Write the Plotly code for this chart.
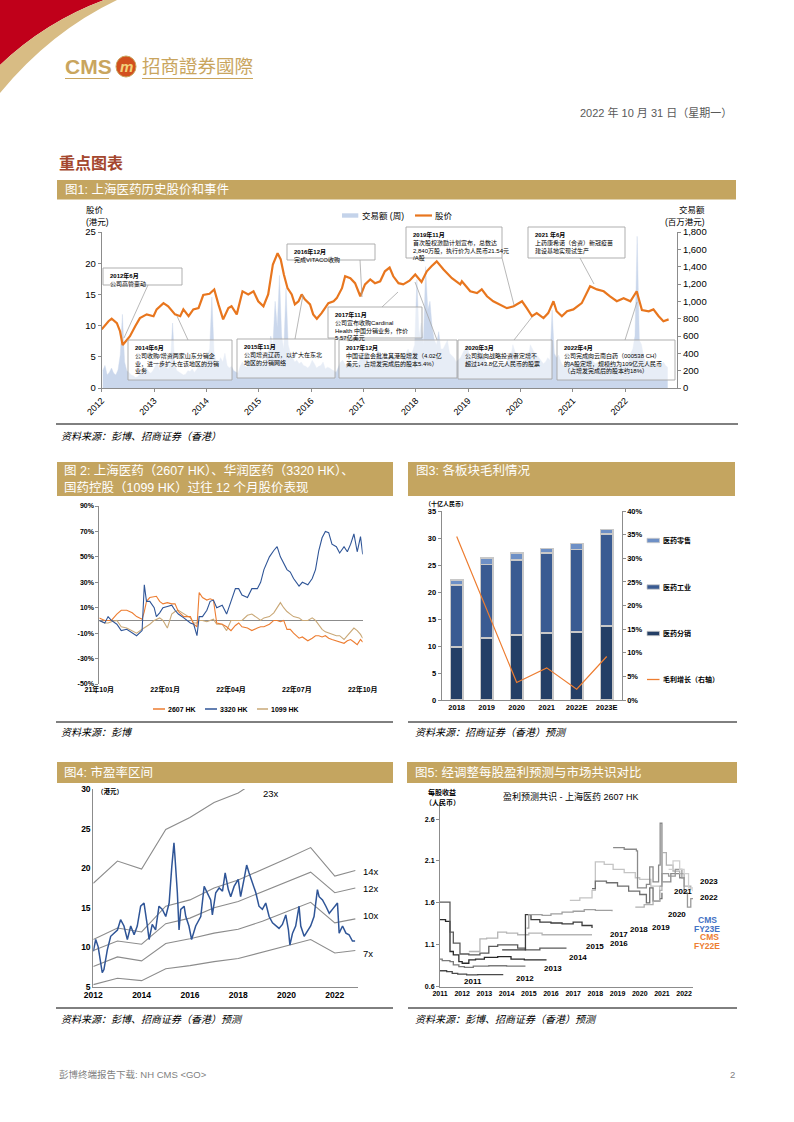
import plotly.graph_objects as go

# Page geometry: the figure fills the page; the body margin is removed after plotting.
PAGE_W, PAGE_H = 794, 1122
OFF = 0
W, H = PAGE_W - 2 * OFF, PAGE_H - 2 * OFF
def X(p): return (p - OFF) / W
def Y(p): return 1 - (p - OFF) / H

FONT = "Liberation Sans, Arial, Noto Sans CJK SC, sans-serif"
GOLD = "#C4A560"
AX = "#8C8C8C"

# ======================= DATA =======================
# --- Fig 1: price (HKD) and weekly turnover (HKD mn)
price_year = [2012.00, 2012.13, 2012.19, 2012.29, 2012.35, 2012.40, 2012.46, 2012.54, 2012.64, 2012.73, 2012.86, 2012.99,
              2013.05, 2013.18, 2013.27, 2013.40, 2013.50, 2013.56, 2013.66, 2013.75, 2013.85, 2013.94,
              2014.06, 2014.15, 2014.23, 2014.32, 2014.42, 2014.48, 2014.58, 2014.69, 2014.80, 2014.90, 2014.99,
              2015.09, 2015.18, 2015.27, 2015.36, 2015.42, 2015.48, 2015.55, 2015.63, 2015.69, 2015.76, 2015.82, 2015.88, 2015.98,
              2016.04, 2016.11, 2016.20, 2016.33, 2016.43, 2016.49, 2016.59, 2016.65, 2016.75, 2016.84, 2016.94,
              2017.03, 2017.13, 2017.22, 2017.32, 2017.41, 2017.50, 2017.57, 2017.67, 2017.76, 2017.88, 2017.99,
              2018.11, 2018.21, 2018.30, 2018.40, 2018.53, 2018.69, 2018.85, 2018.88,
              2019.04, 2019.17, 2019.26, 2019.36, 2019.48, 2019.61, 2019.74, 2019.87,
              2020.03, 2020.12, 2020.22, 2020.31, 2020.44, 2020.53, 2020.63, 2020.69, 2020.79, 2020.89,
              2021.01, 2021.17, 2021.33, 2021.46, 2021.59, 2021.71, 2021.84, 2021.97,
              2022.10, 2022.22, 2022.32, 2022.45, 2022.54, 2022.64, 2022.73, 2022.83]
price_hkd = [9.4, 10.7, 11.1, 10.4, 9.1, 6.9, 7.5, 8.3, 9.9, 11.2, 11.8, 11.5,
             12.6, 13.6, 13.1, 11.8, 11.5, 12.6, 11.5, 12.6, 12.8, 14.9,
             15.1, 15.8, 13.4, 11.0, 12.8, 13.1, 11.8, 15.5, 15.0, 15.5, 13.9,
             13.1, 15.0, 19.8, 21.6, 20.6, 18.2, 16.0, 15.0, 13.4, 13.9, 15.0, 14.2, 13.4,
             11.8, 11.1, 12.0, 13.6, 13.9, 14.4, 16.0, 17.9, 17.6, 16.8, 14.7,
             16.6, 17.4, 16.8, 17.1, 18.7, 19.3, 17.9, 16.8, 16.6, 17.2, 18.2,
             17.0, 18.7, 19.5, 20.3, 19.0, 17.6, 16.6, 17.1,
             15.5, 15.2, 15.8, 14.7, 13.9, 13.4, 12.8, 13.1,
             13.9, 12.8, 11.5, 12.0, 11.2, 12.0, 13.9, 12.3, 11.5, 12.3,
             12.6, 13.6, 16.3, 15.8, 15.5, 14.7, 13.9, 14.4,
             13.9, 15.5, 12.5, 12.3, 12.6, 11.5, 10.7, 11.0]
# half-monthly turnover, Jan 2012 – Oct 2022
turnover_2012 = [200, 260, 150, 180, 230, 170, 150, 210, 380, 850, 300, 200, 180, 150, 140, 120, 130, 160, 200, 170, 230, 190, 170, 200]
turnover_2013 = [250, 300, 200, 350, 280, 240, 220, 300, 750, 260, 200, 180, 170, 150, 160, 200, 190, 220, 180, 210, 260, 240, 300, 280]
turnover_2014 = [380, 450, 1050, 420, 300, 280, 350, 300, 400, 260, 230, 250, 200, 180, 170, 250, 300, 260, 240, 300, 380, 450, 350, 300]
turnover_2015 = [280, 300, 260, 350, 400, 600, 500, 1000, 700, 1300, 600, 450, 1150, 500, 400, 350, 300, 320, 280, 300, 260, 250, 230, 260]
turnover_2016 = [320, 280, 230, 250, 260, 300, 220, 240, 230, 210, 200, 180, 250, 300, 320, 280, 230, 250, 260, 290, 230, 280, 330, 400]
turnover_2017 = [380, 350, 300, 320, 280, 300, 450, 400, 380, 320, 300, 350, 420, 380, 350, 300, 260, 280, 350, 400, 450, 380, 420, 500]
turnover_2018 = [1250, 600, 750, 500, 1400, 900, 1000, 700, 550, 500, 650, 450, 450, 500, 550, 400, 380, 350, 300, 320, 350, 400, 450, 500]
turnover_2019 = [380, 350, 320, 300, 450, 400, 380, 350, 280, 260, 240, 280, 300, 260, 230, 220, 280, 300, 330, 350, 500, 420, 300, 280]
turnover_2020 = [280, 300, 350, 320, 500, 450, 400, 380, 350, 320, 280, 300, 350, 320, 900, 400, 350, 380, 300, 260, 250, 280, 300, 280]
turnover_2021 = [300, 280, 260, 300, 350, 300, 400, 380, 350, 300, 280, 300, 250, 240, 230, 250, 280, 300, 300, 280, 240, 260, 280, 260]
turnover_2022 = [260, 300, 400, 450, 600, 1750, 550, 500, 350, 300, 320, 300, 280, 260, 250, 230, 260, 300, 260, 240]
year_ticks = [2012, 2013, 2014, 2015, 2016, 2017, 2018, 2019, 2020, 2021, 2022]

events = [
    ("2012年6月", "公司高管变动"),
    ("2014年6月", "公司收购/增资两家山东分销企<br>业，进一步扩大在该地区的分销<br>业务"),
    ("2015年11月", "公司增资辽药，以扩大在东北<br>地区的分销网络"),
    ("2016年12月", "完成VITACO收购"),
    ("2017年11月", "公司宣布收购Cardinal<br>Health 中国分销业务，作价<br>5.57亿美元"),
    ("2017年12月", "中国证监会批准其港股增发（4.02亿<br>美元，占增发完成后的股本5.4%）"),
    ("2019年11月", "首次股权激励计划宣布，总数达<br>2,840万股，执行价为人民币21.54元<br>/A股"),
    ("2020年3月", "公司拟向战略投资者定增不<br>超过143.8亿元人民币的股票"),
    ("2021 年6月", "上药康希诺（合资）新冠疫苗<br>建设基地实现试生产"),
    ("2022年4月", "公司完成向云南白药（000538 CH）<br>的A股定增，规模约为109亿元人民币<br>（占增发完成后的股本约18%）"),
]

# --- Fig 2: 12-month relative performance (%), x in months since Oct-21
perf_month = [0, 0.25, 0.4, 0.55, 0.8, 1.0, 1.25, 1.5, 1.7, 1.95,
              2.05, 2.15, 2.3, 2.5, 2.6, 2.75, 2.9, 3.1, 3.3, 3.45,
              3.6, 3.85, 4.15, 4.3, 4.45, 4.55, 4.7, 4.9, 5.05, 5.2,
              5.35, 5.6, 5.8, 6.0, 6.2, 6.35, 6.5, 6.75, 6.95, 7.2,
              7.35, 7.5, 7.75, 7.95, 8.1, 8.25, 8.4, 8.55, 8.7, 8.85,
              9.1, 9.25, 9.5, 9.7, 9.85, 10.0, 10.15, 10.3, 10.45, 10.6,
              10.8, 10.95, 11.15, 11.3, 11.45, 11.6, 11.75, 11.9, 12.0]
perf_2607 = [2, 0, 0, 0, 5, 8, 8, 6, 3, 1,
             7, 15, 18, 19, 19, 15, 13, 14, 13, 13,
             7, 3, 3, -3, -5, 22, 18, 16, 17, 16,
             -2, -3, -5, -8, -4, -2, -5, -6, -8, -6,
             -5, -5, -3, 0, 0, -1, 0, -7, -7, -10,
             -14, -13, -16, -14, -12, -12, -13, -12, -14, -15,
             -16, -17, -18, -16, -15, -17, -19, -15, -17]
perf_3320 = [0, -2, 3, 0, -3, -8, -7, -10, -12, -8,
             28, 15, 15, 10, 3, 6, 10, 11, 12, 8,
             5, 2, -2, -3, -12, 3, 3, 8, 15, 16,
             10, 12, 5, 15, 25, 25, 20, 18, 25, 25,
             30, 40, 50, 55, 58, 50, 45, 40, 38, 33,
             27, 30, 28, 33, 40, 55, 65, 70, 69, 60,
             58, 53, 58, 54, 60, 68, 54, 66, 52]
perf_1099 = [0, -2, -2, -1, 0, -5, -6, -8, -10, -7,
             -6, -5, -3, 0, 1, 2, 0, -6, 5, 7,
             8, 5, 2, -2, -2, 0, 0, -1, 0, 1,
             -3, -3, -8, 0, 0, 0, 0, 4, 5, 2,
             0, 2, 3, 6, 10, 14, 10, 7, 5, 3,
             2, 0, 0, 2, 0, -4, -7, -9, -10, -11,
             -12, -12, -15, -12, -9, -6, -8, -11, -14]
perf_ticks = [0, 3, 6, 9, 12]
perf_ticklabels = ["21年10月", "22年01月", "22年04月", "22年07月", "22年10月"]

# --- Fig 3: gross profit by segment (RMB bn) and growth (%)
gp_years = ["2018", "2019", "2020", "2021", "2022E", "2023E"]
gp_distribution = [9.8, 11.5, 12.0, 12.4, 12.6, 13.7]
gp_industry = [11.5, 13.6, 13.9, 14.8, 15.3, 17.0]
gp_retail = [0.9, 1.2, 1.3, 0.9, 1.1, 0.9]
gp_growth = [34.6, 19.0, 3.7, 6.8, 2.3, 9.2]

# --- Fig 4: PE band
band_year = [2012, 2013, 2014, 2015, 2016, 2017, 2018, 2019, 2020, 2021, 2022, 2022.85]
pe_7x = [5.3, 6.1, 5.8, 7.3, 7.7, 8.2, 8.6, 9.4, 10.2, 11.0, 9.3, 9.6]
pe_10x = [7.6, 8.8, 8.3, 10.5, 11.1, 11.8, 12.3, 13.3, 14.5, 15.7, 13.1, 13.6]
pe_12x = [9.6, 10.8, 10.4, 13.0, 13.7, 15.0, 15.8, 17.0, 18.2, 19.5, 16.9, 17.5]
pe_14x = [11.0, 12.45, 11.95, 15.2, 16.0, 17.5, 18.5, 19.8, 21.2, 22.6, 19.0, 19.7]
pe_23x = [18.1, 20.9, 19.9, 24.9, 26.4, 28.3, 29.5, 31.5, 33.5, 36.0, 31.0, 32.0]
pe_price_year = [2012.0, 2012.1, 2012.2, 2012.3, 2012.37, 2012.44, 2012.58, 2012.72, 2012.86, 2013.0,
                 2013.13, 2013.27, 2013.41, 2013.55, 2013.69, 2013.82, 2013.96, 2014.1, 2014.24, 2014.31,
                 2014.44, 2014.58, 2014.72, 2014.86, 2015.0, 2015.14, 2015.25, 2015.34, 2015.38, 2015.48,
                 2015.55, 2015.62, 2015.76, 2015.83, 2015.96, 2016.07, 2016.24, 2016.45, 2016.59, 2016.72,
                 2016.86, 2016.93, 2017.07, 2017.21, 2017.35, 2017.46, 2017.59, 2017.69, 2017.83, 2018.0,
                 2018.1, 2018.24, 2018.35, 2018.45, 2018.59, 2018.73, 2018.86, 2019.0, 2019.14, 2019.28,
                 2019.42, 2019.56, 2019.69, 2019.83, 2019.97, 2020.08, 2020.14, 2020.25, 2020.38, 2020.52,
                 2020.59, 2020.73, 2020.87, 2021.0, 2021.14, 2021.28, 2021.35, 2021.49, 2021.63, 2021.77,
                 2021.9, 2022.01, 2022.11, 2022.18, 2022.32, 2022.46, 2022.59, 2022.73, 2022.84]
pe_price = [9.5, 11.0, 10.1, 8.4, 6.8, 7.2, 9.7, 11.4, 11.8, 12.2,
            13.5, 12.7, 11.0, 12.7, 11.6, 12.7, 15.2, 15.6, 12.7, 11.0,
            12.9, 12.2, 15.2, 14.8, 13.9, 15.6, 20.2, 23.2, 21.5, 16.9,
            12.2, 14.8, 15.2, 13.9, 12.7, 11.0, 12.7, 13.9, 17.7, 16.9,
            16.0, 14.1, 16.9, 17.5, 17.1, 19.4, 17.3, 16.4, 17.7, 18.6,
            16.4, 18.6, 20.4, 19.4, 18.1, 16.9, 15.2, 14.8, 15.6, 13.9,
            13.1, 12.7, 12.4, 12.9, 14.1, 12.2, 10.3, 11.8, 12.7, 15.2,
            12.7, 11.4, 12.0, 12.7, 13.9, 17.3, 16.4, 16.0, 15.2, 14.3,
            14.8, 15.2, 15.6, 11.8, 12.7, 11.8, 11.6, 10.8, 10.8]

# --- Fig 5: EPS consensus (RMB) per fiscal year
eps_fy2011_x = [2011.0, 2011.3, 2011.55, 2011.8, 2012.2, 2012.7, 2013.85]
eps_fy2011_y = [0.79, 0.78, 0.76, 0.75, 0.74, 0.745, 0.745]
eps_fy2012_x = [2011.0, 2011.1, 2011.45, 2011.6, 2011.85, 2012.1, 2012.5, 2013.2, 2014.0, 2014.85]
eps_fy2012_y = [0.93, 0.91, 0.90, 0.86, 0.84, 0.83, 0.845, 0.85, 0.845, 0.845]
eps_fy2013_x = [2011.0, 2011.25, 2011.45, 2011.6, 2011.85, 2012.0, 2012.3, 2012.6, 2013.0, 2013.6, 2014.2, 2014.8, 2015.3, 2015.8]
eps_fy2013_y = [1.40, 1.38, 1.02, 0.98, 0.90, 0.88, 0.92, 0.93, 0.95, 0.96, 0.93, 0.92, 0.92, 0.92]
eps_fy2014_x = [2011.0, 2011.45, 2011.6, 2011.9, 2012.3, 2012.8, 2013.2, 2013.6, 2014.0, 2014.5, 2014.85, 2015.5, 2016.0, 2016.7]
eps_fy2014_y = [1.61, 1.25, 1.12, 0.99, 0.98, 1.00, 1.08, 1.10, 1.10, 1.06, 1.04, 1.06, 1.06, 1.06]
eps_fy2015_x = [2012.3, 2012.8, 2013.1, 2013.6, 2014.0, 2014.5, 2015.0, 2015.6, 2016.2, 2017.0, 2017.85]
eps_fy2015_y = [1.02, 1.17, 1.18, 1.25, 1.24, 1.22, 1.24, 1.22, 1.22, 1.22, 1.22]
eps_fy2016_x = [2013.8, 2014.85, 2015.1, 2015.5, 2016.0, 2016.5, 2017.0, 2017.4, 2017.85]
eps_fy2016_y = [1.04, 1.46, 1.40, 1.37, 1.36, 1.35, 1.37, 1.33, 1.30]
eps_fy2017_x = [2014.9, 2015.0, 2015.6, 2016.0, 2016.5, 2017.0, 2017.5, 2018.0, 2018.75]
eps_fy2017_y = [1.30, 1.46, 1.45, 1.47, 1.49, 1.50, 1.52, 1.51, 1.50]
eps_fy2018_x = [2016.85, 2017.3, 2017.85, 2018.0, 2018.4, 2018.8, 2019.3, 2019.8, 2020.0, 2020.5, 2020.9]
eps_fy2018_y = [1.63, 1.66, 1.75, 2.09, 2.06, 2.00, 1.96, 1.90, 1.88, 1.80, 1.65]
eps_fy2019_x = [2017.85, 2018.0, 2018.5, 2019.0, 2019.5, 2020.0, 2020.3, 2020.45, 2020.6, 2020.9, 2021.0]
eps_fy2019_y = [1.77, 1.86, 1.84, 1.80, 1.74, 1.70, 1.60, 1.78, 1.62, 1.65, 1.72]
eps_fy2020_x = [2018.8, 2019.3, 2019.85, 2019.9, 2020.3, 2020.45, 2020.6, 2020.85, 2020.92, 2021.0, 2021.4, 2021.8, 2022.0]
eps_fy2020_y = [2.26, 2.24, 2.22, 1.78, 1.82, 2.03, 1.85, 2.05, 2.55, 1.85, 1.95, 1.90, 1.88]
eps_fy2021_x = [2019.8, 2020.2, 2020.6, 2020.9, 2021.0, 2021.2, 2021.5, 2021.8, 2022.0, 2022.3]
eps_fy2021_y = [1.55, 1.58, 1.62, 1.75, 2.20, 2.05, 1.98, 1.95, 1.80, 1.75]
eps_fy2022_x = [2020.9, 2021.0, 2021.3, 2021.6, 2021.9, 2022.0, 2022.15, 2022.3, 2022.4]
eps_fy2022_y = [1.80, 1.95, 1.92, 2.00, 1.90, 1.72, 1.55, 1.65, 1.65]
eps_fy2023_x = [2021.3, 2021.5, 2021.8, 2022.0, 2022.2, 2022.4]
eps_fy2023_y = [2.00, 2.10, 2.00, 1.95, 1.78, 1.74]
cms_fy23e = 1.25
cms_fy22e = 1.19
cms_x = 2022.42

# ======================= FIGURE =======================
fig = go.Figure()
ann, shapes = [], []

def T(x, y, text, size=9, color="#000000", xa="left", ya="middle", bold=False, italic=False, align="left"):
    if bold:
        text = "<b>" + text + "</b>"
    if italic:
        text = "<i>" + text + "</i>"
    ann.append(dict(x=X(x), y=Y(y), xref="paper", yref="paper", text=text, showarrow=False,
                    xanchor=xa, yanchor=ya, align=align, borderpad=0,
                    font=dict(size=size, color=color, family=FONT)))

def R(x0, y0, x1, y1, fill, lc=None, lw=0):
    shapes.append(dict(type="rect", xref="paper", yref="paper", x0=X(x0), y0=Y(y1), x1=X(x1), y1=Y(y0),
                       fillcolor=fill, line=dict(color=lc if lc else "rgba(0,0,0,0)", width=lw)))

def L(x0, y0, x1, y1, color, w=1):
    shapes.append(dict(type="line", xref="paper", yref="paper", x0=X(x0), y0=Y(y0), x1=X(x1), y1=Y(y1),
                       line=dict(color=color, width=w)))

def P(cmds, fill):
    s = ""
    for c, pts in cmds:
        s += c
        for i in range(0, len(pts), 2):
            s += "%.5f,%.5f " % (X(pts[i]), Y(pts[i + 1]))
    shapes.append(dict(type="path", xref="paper", yref="paper", path=s, fillcolor=fill,
                       line=dict(width=0, color=fill)))

# ---------- page header ----------
P([("M", [0, 0]), ("L", [104, 0]), ("Q", [45, 22, 0, 65]), ("Z", [])], "#C0001A")
P([("M", [104, 0]), ("L", [117, 0]), ("Q", [50, 32, 0, 93]), ("L", [0, 65]), ("Q", [45, 22, 104, 0]), ("Z", [])], "#D8BC84")
T(64, 67, "CMS", size=21, color="#C9A55E", bold=True)
shapes.append(dict(type="circle", xref="paper", yref="paper", x0=X(116), y0=Y(77), x1=X(136), y1=Y(56),
                   fillcolor="#D2501E", line=dict(color="#C9A55E", width=1)))
T(126, 66, "<i>m</i>", size=15, color="#F2D27A", xa="center", bold=True)
T(141, 67, "招商證券國際", size=18.5, color="#C9A55E")
L(65, 78.5, 109, 78.5, "#C9A55E", 1.2)
L(142, 78.5, 253, 78.5, "#C9A55E", 1.2)
T(733, 112.5, "2022 年 10 月 31 日（星期一）", size=11, color="#595959", xa="right")
T(58, 163, "重点图表", size=16, color="#A4472E", bold=True)

# ---------- section bands ----------
R(57, 180, 736, 199.5, GOLD)
T(64, 190, "图1: 上海医药历史股价和事件", size=12.5, color="#FFFFFF")
R(57, 462, 393, 496, GOLD)
T(63, 470.5, "图 2: 上海医药（2607 HK）、华润医药（3320 HK）、", size=12.5, color="#FFFFFF")
T(63, 487.5, "国药控股（1099 HK）过往 12 个月股价表现", size=12.5, color="#FFFFFF")
R(408, 462, 735, 496, GOLD)
T(415, 470.5, "图3: 各板块毛利情况", size=12.5, color="#FFFFFF")
R(57, 762, 393, 783, GOLD)
T(63, 772.5, "图4: 市盈率区间", size=12.5, color="#FFFFFF")
R(407, 762, 737, 783, GOLD)
T(414, 772.5, "图5: 经调整每股盈利预测与市场共识对比", size=12.5, color="#FFFFFF")

# source lines
L(56, 424, 738, 424, "#000000", 1)
T(60, 436, "资料来源：彭博、招商证券（香港）", size=10, italic=True)
L(56, 722, 393, 722, "#000000", 1)
T(60, 732, "资料来源：彭博", size=10, italic=True)
L(408, 722, 737, 722, "#000000", 1)
T(414, 732, "资料来源：招商证券（香港）预测", size=10, italic=True)
L(56, 1008, 393, 1008, "#000000", 1)
T(60, 1019, "资料来源：彭博、招商证券（香港）预测", size=10, italic=True)
L(408, 1008, 737, 1008, "#000000", 1)
T(414, 1019, "资料来源：彭博、招商证券（香港）预测", size=10, italic=True)

# footer
T(58, 1074.5, "彭博终端报告下载: NH CMS &lt;GO&gt;", size=9.5, color="#7F7F7F")
T(736, 1074.5, "2", size=9.5, color="#7F7F7F", xa="right")

# ---------- Fig 1 ----------
turnover_mn = (turnover_2012 + turnover_2013 + turnover_2014 + turnover_2015 + turnover_2016 +
               turnover_2017 + turnover_2018 + turnover_2019 + turnover_2020 + turnover_2021 + turnover_2022)
vol_x = [2012 + (i + 0.5) / 24 for i in range(len(turnover_mn))]
fig.add_trace(go.Scatter(x=vol_x, y=turnover_mn, mode="lines", fill="tozeroy",
                         line=dict(width=0.4, color="#C9D6EA"), fillcolor="rgba(196,211,234,0.9)",
                         xaxis="x", yaxis="y", hoverinfo="skip"))
fig.add_trace(go.Scatter(x=price_year, y=price_hkd, mode="lines", line=dict(color="#E8761E", width=2.2),
                         xaxis="x", yaxis="y2"))
T(85, 210, "股价", size=8.5)
T(85, 222, "(港元)", size=8.5)
T(706, 210, "交易额", size=8.5, xa="right")
T(706, 222, "(百万港元)", size=8.5, xa="right")
R(342, 213.3, 358.3, 217.7, "#C4D3EA")
T(361, 215.5, "交易额 (周)", size=8.5)
L(415, 215.5, 432, 215.5, "#E8761E", 2.2)
T(434, 215.5, "股价", size=8.5)

boxes = [
    (103, 268, 182, 285, 148, 285, 124, 338),
    (128, 340, 232, 380, 188, 340, 177, 316),
    (237, 339, 335, 378, 295, 339, 303, 295),
    (287, 244, 375, 260, 360, 260, 362, 297),
    (328, 307, 422, 338, 382, 307, 398, 292),
    (339, 340, 457, 378, 437, 340, 415, 282),
    (406, 227, 502, 258, 502, 258, 514, 305),
    (458, 340, 552, 379, 514, 340, 532, 317),
    (528, 227, 625, 258, 580, 258, 594, 284),
    (557, 340, 675, 380, 625, 340, 637, 302),
]
for (x0, y0, x1, y1, lx0, ly0, lx1, ly1), (title, body) in zip(boxes, events):
    L(lx0, ly0, lx1, ly1, "#A6A6A6", 0.8)
    R(x0, y0, x1, y1, "rgba(255,255,255,0.55)", "#A6A6A6", 0.9)
    ann.append(dict(x=X(x0 + 6), y=Y(y0 + 3), xref="paper", yref="paper",
                    text="<b>" + title + "</b><br>" + body, showarrow=False, xanchor="left", yanchor="top",
                    align="left", borderpad=0, font=dict(size=6, color="#000000", family=FONT)))

# ---------- Fig 2 ----------
fig.add_trace(go.Scatter(x=perf_month, y=perf_1099, mode="lines", line=dict(color="#C9A877", width=1.1),
                         xaxis="x2", yaxis="y3"))
fig.add_trace(go.Scatter(x=perf_month, y=perf_2607, mode="lines", line=dict(color="#ED7D31", width=1.1),
                         xaxis="x2", yaxis="y3"))
fig.add_trace(go.Scatter(x=perf_month, y=perf_3320, mode="lines", line=dict(color="#2F5597", width=1.1),
                         xaxis="x2", yaxis="y3"))
L(153, 709, 165, 709, "#ED7D31", 1.5)
T(167, 709, "2607 HK", size=7, bold=True)
L(205, 709, 217, 709, "#2F5597", 1.5)
T(219, 709, "3320 HK", size=7, bold=True)
L(257, 709, 268, 709, "#C9A877", 1.5)
T(270, 709, "1099 HK", size=7, bold=True)

# ---------- Fig 3 ----------
bar_line = dict(color="#C8C8C8", width=1.5)
fig.add_trace(go.Bar(x=gp_years, y=gp_distribution, width=0.42, marker=dict(color="#243F66", line=bar_line),
                     xaxis="x3", yaxis="y4"))
fig.add_trace(go.Bar(x=gp_years, y=gp_industry, width=0.42, marker=dict(color="#3A5B92", line=bar_line),
                     xaxis="x3", yaxis="y4"))
fig.add_trace(go.Bar(x=gp_years, y=gp_retail, width=0.42, marker=dict(color="#6E90C6", line=bar_line),
                     xaxis="x3", yaxis="y4"))
fig.add_trace(go.Scatter(x=gp_years, y=gp_growth, mode="lines", line=dict(color="#ED7D31", width=1.2),
                         xaxis="x3", yaxis="y5"))
T(446, 503.5, "（十亿人民币）", size=6, xa="center", bold=True)
for yy, col, lab in [(540.5, "#6E90C6", "医药零售"), (587, "#3A5B92", "医药工业"), (633.5, "#243F66", "医药分销")]:
    R(647, yy - 2.2, 659.5, yy + 2.2, col, "#C8C8C8", 0.8)
    T(662, yy, lab, size=7, bold=True)
L(647, 679.5, 659.5, 679.5, "#ED7D31", 1.3)
T(662, 679.5, "毛利增长（右轴）", size=7, bold=True)

# ---------- Fig 4 ----------
for band in [pe_7x, pe_10x, pe_12x, pe_14x, pe_23x]:
    fig.add_trace(go.Scatter(x=band_year, y=band, mode="lines", line=dict(color="#8C8C8C", width=1.1),
                             xaxis="x4", yaxis="y6"))
fig.add_trace(go.Scatter(x=pe_price_year, y=pe_price, mode="lines", line=dict(color="#2F5597", width=1.5),
                         xaxis="x4", yaxis="y6"))
T(110, 791.5, "（港元）", size=6.5, xa="center", bold=True)
T(262, 793.5, "23x", size=9.5)
T(362, 871, "14x", size=9.5)
T(362, 888.5, "12x", size=9.5)
T(362, 915, "10x", size=9.5)
T(362, 953, "7x", size=9.5)

# ---------- Fig 5 ----------
eps_lines = [
    (eps_fy2011_x, eps_fy2011_y, "#4A4A4A"), (eps_fy2012_x, eps_fy2012_y, "#7A7A7A"),
    (eps_fy2013_x, eps_fy2013_y, "#2A2A2A"), (eps_fy2014_x, eps_fy2014_y, "#5A5A5A"),
    (eps_fy2015_x, eps_fy2015_y, "#B5B5B5"), (eps_fy2016_x, eps_fy2016_y, "#3C3C3C"),
    (eps_fy2017_x, eps_fy2017_y, "#A0A0A0"), (eps_fy2018_x, eps_fy2018_y, "#C4C4C4"),
    (eps_fy2019_x, eps_fy2019_y, "#6E6E6E"), (eps_fy2020_x, eps_fy2020_y, "#8A8A8A"),
    (eps_fy2021_x, eps_fy2021_y, "#B0B0B0"), (eps_fy2022_x, eps_fy2022_y, "#999999"),
    (eps_fy2023_x, eps_fy2023_y, "#D0D0D0"),
]
for xs, ys, col in eps_lines:
    fig.add_trace(go.Scatter(x=xs, y=ys, mode="lines", line=dict(color=col, width=1.3, shape="hv"),
                             xaxis="x5", yaxis="y7"))
fig.add_trace(go.Scatter(x=[cms_x], y=[cms_fy23e], mode="markers", cliponaxis=False,
                         marker=dict(symbol="triangle-up-open", size=8, color="#4472C4", line=dict(width=1.2)),
                         xaxis="x5", yaxis="y7"))
fig.add_trace(go.Scatter(x=[cms_x], y=[cms_fy22e], mode="markers", cliponaxis=False,
                         marker=dict(symbol="square-open", size=8, color="#ED7D31", line=dict(width=1.2)),
                         xaxis="x5", yaxis="y7"))
T(571, 796, "盈利预测共识 - 上海医药 2607 HK", size=9, xa="center")
T(442, 792, "每股收益", size=7, xa="center", bold=True)
T(442, 802, "（人民币）", size=7, xa="center", bold=True)
for (lx, ly, lab) in [(473, 981, "2011"), (525, 978, "2012"), (553, 968, "2013"), (578, 957, "2014"),
                      (595, 946, "2015"), (619, 943.5, "2016"), (619, 934, "2017"), (639, 929, "2018"),
                      (661, 927, "2019"), (677, 914, "2020"), (683, 891, "2021"), (709, 897.5, "2022"),
                      (709, 881, "2023")]:
    T(lx, ly, lab, size=8, xa="center", bold=True)
T(707, 920, "CMS", size=8.5, color="#4472C4", xa="center", bold=True)
T(707, 928.5, "FY23E", size=8.5, color="#4472C4", xa="center", bold=True)
T(709, 937, "CMS", size=8.5, color="#ED7D31", xa="center", bold=True)
T(707, 945.5, "FY22E", size=8.5, color="#ED7D31", xa="center", bold=True)

# ---------- axes ----------
def axis(**kw):
    base = dict(showgrid=False, zeroline=False, showline=True, linecolor=AX, linewidth=1,
                ticks="outside", ticklen=3, tickcolor=AX, color="#000000", fixedrange=True,
                automargin=False)
    base.update(kw)
    return base

def tf(s, b=False):
    return dict(size=s, family=FONT, color="#000000", weight="bold" if b else "normal")

layout_axes = dict(
    # fig1
    xaxis=axis(domain=[X(101.7), X(677)], range=[2012, 2022.99], tickvals=year_ticks,
               ticktext=[str(v) for v in year_ticks], tickangle=-45, tickfont=tf(9), anchor="y"),
    yaxis=axis(domain=[Y(388), Y(232)], range=[0, 1800], dtick=200, tickformat=",", side="right",
               anchor="x", tickfont=tf(9.5)),
    yaxis2=axis(domain=[Y(388), Y(232)], range=[0, 25], dtick=5, side="left", overlaying="y",
                anchor="x", tickfont=tf(9.5)),
    # fig2
    xaxis2=axis(domain=[X(99.3), X(362.7)], range=[0, 12], tickvals=perf_ticks, ticktext=perf_ticklabels,
                showline=False, ticks="", tickfont=tf(7, True), anchor="y3"),
    yaxis3=axis(domain=[Y(684), Y(506)], range=[-50, 90], tickvals=[-50, -30, -10, 10, 30, 50, 70, 90],
                ticktext=["-50%", "-30%", "-10%", "10%", "30%", "50%", "70%", "90%"],
                zeroline=True, zerolinecolor=AX, zerolinewidth=1, tickfont=tf(7, True), anchor="x2"),
    # fig3
    xaxis3=axis(domain=[X(441.7), X(621.7)], type="category", range=[-0.5, 5.5], ticks="",
                tickfont=tf(7.5, True), anchor="y4"),
    yaxis4=axis(domain=[Y(700), Y(511)], range=[0, 35], dtick=5, tickfont=tf(7.5, True), anchor="x3"),
    yaxis5=axis(domain=[Y(700), Y(511)], range=[0, 40], dtick=5, ticksuffix="%", side="right",
                overlaying="y4", tickfont=tf(7.5, True), anchor="x3"),
    # fig4
    xaxis4=axis(domain=[X(93.3), X(358)], range=[2012, 2022.96], tickvals=[2012, 2014, 2016, 2018, 2020, 2022],
                ticks="", tickfont=tf(8.5, True), anchor="y6"),
    yaxis6=axis(domain=[Y(987), Y(789)], range=[5, 30], dtick=5, ticks="", tickfont=tf(8.5, True), anchor="x4"),
    # fig5
    xaxis5=axis(domain=[X(440), X(693)], range=[2011, 2022.4], tickvals=list(range(2011, 2023)),
                ticks="", tickfont=tf(7, True), anchor="y7"),
    yaxis7=axis(domain=[Y(986.7), Y(802.3)], range=[0.6, 2.8], tickvals=[0.6, 1.1, 1.6, 2.1, 2.6],
                tickformat=".1f", tickfont=tf(7, True), anchor="x5"),
)

fig.update_layout(width=W, height=H, autosize=False,
                  margin=dict(l=0, r=0, t=0, b=0, pad=0, autoexpand=False),
                  paper_bgcolor="#FFFFFF", plot_bgcolor="rgba(0,0,0,0)", showlegend=False,
                  barmode="stack", font=dict(family=FONT, size=9, color="#000000"),
                  annotations=ann, shapes=shapes, **layout_axes)

fig.write_html("out.html", config={"displayModeBar": False, "staticPlot": True},
               post_script="document.body.style.margin='0';document.body.style.overflow='hidden';")
